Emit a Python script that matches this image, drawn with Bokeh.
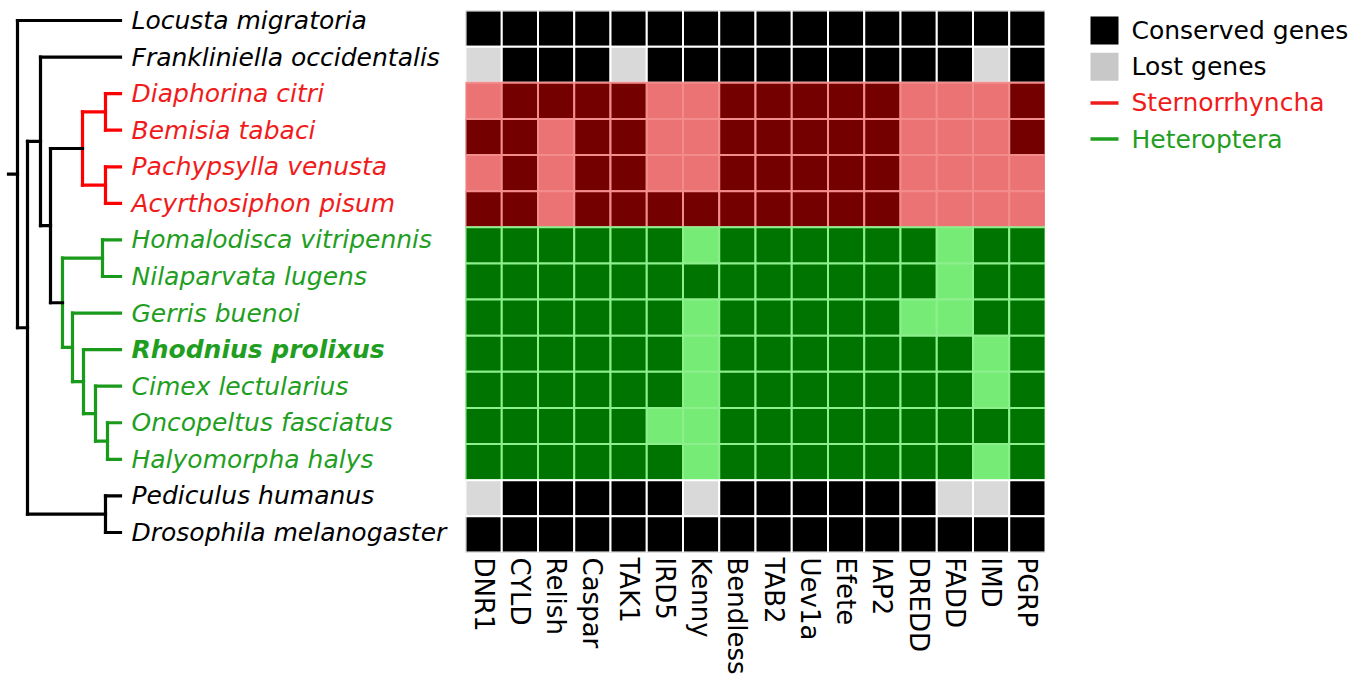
import math
from bokeh.plotting import figure
from bokeh.models import ColumnDataSource, FactorRange, Range1d
from bokeh.layouts import row
from bokeh.core.properties import value, field
from bokeh.embed import file_html
from bokeh.resources import INLINE

# ---------------- data ----------------
species = [
    "Locusta migratoria", "Frankliniella occidentalis", "Diaphorina citri",
    "Bemisia tabaci", "Pachypsylla venusta", "Acyrthosiphon pisum",
    "Homalodisca vitripennis", "Nilaparvata lugens", "Gerris buenoi",
    "Rhodnius prolixus", "Cimex lectularius", "Oncopeltus fasciatus",
    "Halyomorpha halys", "Pediculus humanus", "Drosophila melanogaster",
]
groups = ["out", "out", "st", "st", "st", "st",
          "het", "het", "het", "het", "het", "het", "het", "out", "out"]
highlight = "Rhodnius prolixus"

genes = ["DNR1", "CYLD", "Relish", "Caspar", "TAK1", "IRD5", "Kenny", "Bendless",
         "TAB2", "Uev1a", "Efete", "IAP2", "DREDD", "FADD", "IMD", "PGRP"]

# 1 = conserved, 0 = lost
presence = [
    [1, 1, 1, 1, 1, 1, 1, 1, 1, 1, 1, 1, 1, 1, 1, 1],
    [0, 1, 1, 1, 0, 1, 1, 1, 1, 1, 1, 1, 1, 1, 0, 1],
    [0, 1, 1, 1, 1, 0, 0, 1, 1, 1, 1, 1, 0, 0, 0, 1],
    [1, 1, 0, 1, 1, 0, 0, 1, 1, 1, 1, 1, 0, 0, 0, 1],
    [0, 1, 0, 1, 1, 0, 0, 1, 1, 1, 1, 1, 0, 0, 0, 0],
    [1, 1, 0, 1, 1, 1, 1, 1, 1, 1, 1, 1, 0, 0, 0, 0],
    [1, 1, 1, 1, 1, 1, 0, 1, 1, 1, 1, 1, 1, 0, 1, 1],
    [1, 1, 1, 1, 1, 1, 1, 1, 1, 1, 1, 1, 1, 0, 1, 1],
    [1, 1, 1, 1, 1, 1, 0, 1, 1, 1, 1, 1, 0, 0, 1, 1],
    [1, 1, 1, 1, 1, 1, 0, 1, 1, 1, 1, 1, 1, 1, 0, 1],
    [1, 1, 1, 1, 1, 1, 0, 1, 1, 1, 1, 1, 1, 1, 0, 1],
    [1, 1, 1, 1, 1, 0, 0, 1, 1, 1, 1, 1, 1, 1, 1, 1],
    [1, 1, 1, 1, 1, 1, 0, 1, 1, 1, 1, 1, 1, 1, 0, 1],
    [0, 1, 1, 1, 1, 1, 0, 1, 1, 1, 1, 1, 1, 0, 0, 1],
    [1, 1, 1, 1, 1, 1, 1, 1, 1, 1, 1, 1, 1, 1, 1, 1],
]

# tree: (node depth, clade, children)
tree = (17, None, [
    "Locusta migratoria",
    (27, None, [
        (40, None, [
            "Frankliniella occidentalis",
            (50, None, [
                (82, "st", [
                    (105, None, ["Diaphorina citri", "Bemisia tabaci"]),
                    (105, None, ["Pachypsylla venusta", "Acyrthosiphon pisum"]),
                ]),
                (62, "het", [
                    (102, None, ["Homalodisca vitripennis", "Nilaparvata lugens"]),
                    (72, None, [
                        "Gerris buenoi",
                        (83, None, [
                            "Rhodnius prolixus",
                            (95, None, [
                                "Cimex lectularius",
                                (107, None, ["Oncopeltus fasciatus", "Halyomorpha halys"]),
                            ]),
                        ]),
                    ]),
                ]),
            ]),
        ]),
        (105, None, ["Pediculus humanus", "Drosophila melanogaster"]),
    ]),
])

legend_labels = ["Conserved genes", "Lost genes", "Sternorrhyncha", "Heteroptera"]
legend_kinds = ["square", "square", "line", "line"]

# ---------------- styles ----------------
RED = "#f01c1c"
GREEN = "#1f9e1f"
FONT = "DejaVu Sans"
text_colors = {"out": "#000000", "st": RED, "het": GREEN}
line_colors = {"out": "#000000", "st": "#ff0000", "het": "#1a9a1a"}
cell_colors = {("out", 1): "#000000", ("out", 0): "#d9d9d9",
               ("st", 1): "#750000", ("st", 0): "#eb7373",
               ("het", 1): "#007400", ("het", 0): "#76eb76"}
border_colors = {"out": "#ffffff", "st": "#f38d8d", "het": "#8df08d"}
legend_colors = ["#000000", "#c8c8c8", RED, GREEN]
legend_text_colors = ["#000000", "#000000", RED, GREEN]

# page layout (pixels)
W_TREE, W_HEAT, W_LEG = 465, 580, 315
TOP, FRAME_H, BOTTOM = 10, 542, 116
TIP_X, LABEL_X, STUB_X = 120, 131, 8
ROW0, PITCH = 20, 36.57          # tree rows: page y = ROW0 + PITCH * i


def side_fig(width, xr, yr):
    f = figure(frame_width=width, frame_height=FRAME_H, output_backend="svg",
               toolbar_location=None, x_range=xr, y_range=yr,
               x_axis_location=None, y_axis_location=None,
               min_border_left=0, min_border_right=0,
               min_border_top=TOP, min_border_bottom=BOTTOM)
    f.outline_line_color = None
    f.grid.visible = False
    return f


# ---------------- tree + labels ----------------
segs = {"x0": [], "y0": [], "x1": [], "y1": [], "c": []}


def add(x0, y0, x1, y1, c):
    segs["x0"].append(x0); segs["y0"].append(y0)
    segs["x1"].append(x1); segs["y1"].append(y1)
    segs["c"].append(line_colors[c])


def walk(node, parent_x, parent_clade):
    if isinstance(node, str):
        r = species.index(node)
        add(parent_x, r, TIP_X, r, parent_clade)
        return r
    x, clade, children = node
    c = clade or parent_clade
    ys = [walk(ch, x, c) for ch in children]
    y = (ys[0] + ys[-1]) / 2
    add(x, ys[0], x, ys[-1], c)
    add(parent_x, y, x, y, parent_clade)
    return y


walk(tree, STUB_X, "out")

tree_fig = side_fig(W_TREE, Range1d(0, W_TREE),
                    Range1d((TOP + FRAME_H - ROW0) / PITCH, (TOP - ROW0) / PITCH))
tree_fig.segment("x0", "y0", "x1", "y1", source=ColumnDataSource(segs),
                 line_color="c", line_width=3.2, line_cap="square")

lab = ColumnDataSource(dict(
    x=[LABEL_X] * len(species),
    y=list(range(len(species))),
    t=species,
    c=[text_colors[g] for g in groups],
    s=["bold italic" if s == highlight else "italic" for s in species],
))
tree_fig.text("x", "y", text="t", source=lab, text_color=field("c"),
              text_font_style=field("s"), text_font=value(FONT),
              text_font_size="25px", text_baseline="middle", text_align="left")

# ---------------- heatmap ----------------
hx, hy, hc, hl = [], [], [], []
for i, sp in enumerate(species):
    for j, g in enumerate(genes):
        hx.append(g); hy.append(sp)
        hc.append(cell_colors[(groups[i], presence[i][j])])
        hl.append(border_colors[groups[i]])

heat = figure(frame_width=W_HEAT, frame_height=FRAME_H, output_backend="svg",
              toolbar_location=None,
              x_range=FactorRange(*genes, range_padding=0),
              y_range=FactorRange(*reversed(species), range_padding=0),
              x_axis_location="below", y_axis_location=None,
              min_border_left=0, min_border_right=0, min_border_top=TOP,
              min_border_bottom=BOTTOM)
heat.outline_line_color = None
heat.grid.visible = False
heat.rect("x", "y", 1, 1, source=ColumnDataSource(dict(x=hx, y=hy, c=hc, l=hl)),
          fill_color="c", line_color="l", line_width=2)
ax = heat.xaxis[0]
ax.major_label_orientation = -math.pi / 2
ax.axis_line_color = None
ax.major_tick_line_color = None
ax.minor_tick_line_color = None
ax.major_tick_out = 0
ax.major_label_standoff = 5
ax.major_label_text_font = FONT
ax.major_label_text_font_size = "26px"
ax.major_label_text_color = "#000000"

# ---------------- legend ----------------
x_leg0 = W_TREE + W_HEAT
leg = side_fig(W_LEG, Range1d(x_leg0, x_leg0 + W_LEG), Range1d(TOP + FRAME_H, TOP))
ly = [30 + 36.2 * k for k in range(len(legend_labels))]
sq = [k for k, kd in enumerate(legend_kinds) if kd == "square"]
ln = [k for k, kd in enumerate(legend_kinds) if kd == "line"]
leg.scatter([1104] * len(sq), [ly[k] for k in sq], marker="square", size=28,
            fill_color=[legend_colors[k] for k in sq], line_color=None)
leg.segment([1090] * len(ln), [ly[k] for k in ln], [1118] * len(ln), [ly[k] for k in ln],
            line_color=[legend_colors[k] for k in ln], line_width=3.5)
leg.text([1131] * len(legend_labels), ly, text=legend_labels,
         text_color=legend_text_colors, text_font=value(FONT),
         text_font_size="25px", text_baseline="middle")

layout = row(tree_fig, heat, leg, spacing=0)
open("out.html", "w").write(file_html(layout, INLINE))
